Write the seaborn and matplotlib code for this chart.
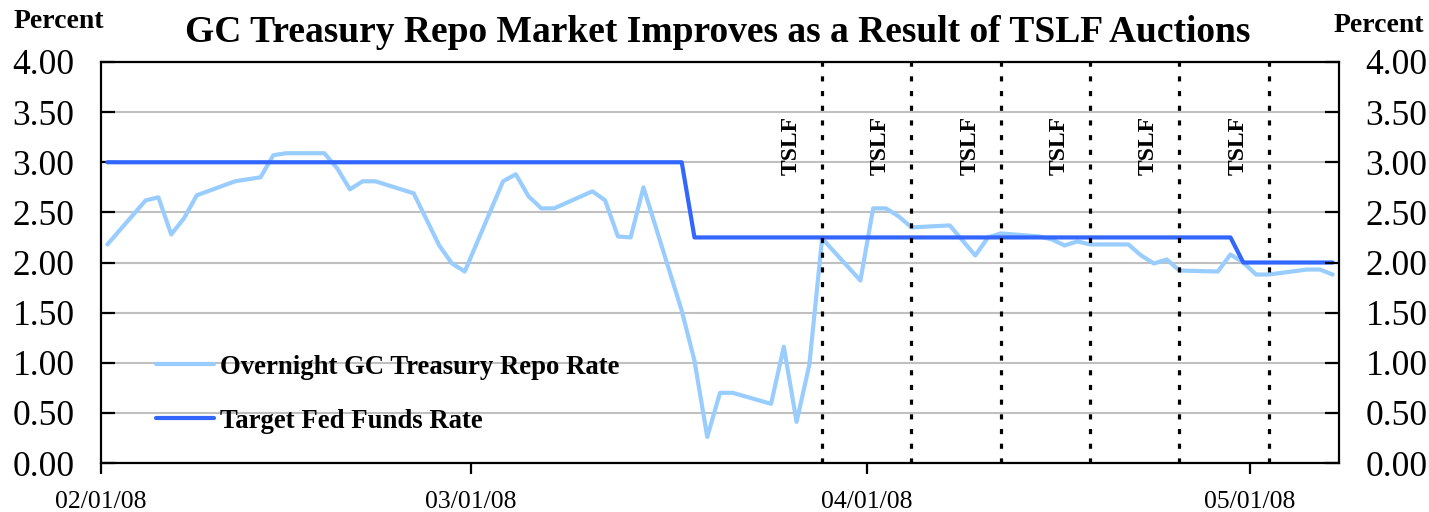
import matplotlib
matplotlib.use("Agg")
import matplotlib.pyplot as plt
import matplotlib.transforms as mtransforms
import seaborn as sns
import pandas as pd

# ---------------- data ----------------
feb_days = ["2008-02-01", "2008-02-04", "2008-02-05", "2008-02-06", "2008-02-07", "2008-02-08",
            "2008-02-11", "2008-02-12", "2008-02-13", "2008-02-14", "2008-02-15",
            "2008-02-18", "2008-02-19", "2008-02-20", "2008-02-21", "2008-02-22",
            "2008-02-25", "2008-02-26", "2008-02-27", "2008-02-28", "2008-02-29"]
mar_days = ["2008-03-03", "2008-03-04", "2008-03-05", "2008-03-06", "2008-03-07",
            "2008-03-10", "2008-03-11", "2008-03-12", "2008-03-13", "2008-03-14",
            "2008-03-17", "2008-03-18", "2008-03-19", "2008-03-20", "2008-03-21",
            "2008-03-24", "2008-03-25", "2008-03-26", "2008-03-27", "2008-03-28",
            "2008-03-31"]
apr_days = ["2008-04-01", "2008-04-02", "2008-04-03", "2008-04-04",
            "2008-04-07", "2008-04-08", "2008-04-09", "2008-04-10", "2008-04-11",
            "2008-04-14", "2008-04-15", "2008-04-16", "2008-04-17", "2008-04-18",
            "2008-04-21", "2008-04-22", "2008-04-23", "2008-04-24", "2008-04-25",
            "2008-04-28", "2008-04-29", "2008-04-30"]
may_days = ["2008-05-01", "2008-05-02", "2008-05-05", "2008-05-06", "2008-05-07"]

repo_feb = [2.18, 2.62, 2.65, 2.28, 2.44, 2.67, 2.81, 2.83, 2.85, 3.07, 3.09,
            3.09, 2.94, 2.73, 2.81, 2.81, 2.69, 2.43, 2.17, 1.99, 1.91]
repo_mar = [2.81, 2.88, 2.66, 2.54, 2.54, 2.71, 2.62, 2.26, 2.25, 2.75,
            1.52, 1.02, 0.26, 0.70, 0.70, 0.59, 1.16, 0.41, 0.98, 2.24, 1.82]
repo_apr = [2.54, 2.54, 2.46, 2.35, 2.37, 2.22, 2.07, 2.25, 2.29,
            2.26, 2.23, 2.17, 2.21, 2.18, 2.18, 2.07, 1.99, 2.03, 1.92,
            1.91, 2.08, 2.00]
repo_may = [1.88, 1.88, 1.93, 1.93, 1.88]

fed_feb = [3.00, 3.00, 3.00, 3.00, 3.00, 3.00, 3.00, 3.00, 3.00, 3.00, 3.00,
           3.00, 3.00, 3.00, 3.00, 3.00, 3.00, 3.00, 3.00, 3.00, 3.00]
fed_mar = [3.00, 3.00, 3.00, 3.00, 3.00, 3.00, 3.00, 3.00, 3.00, 3.00,
           3.00, 2.25, 2.25, 2.25, 2.25, 2.25, 2.25, 2.25, 2.25, 2.25, 2.25]
fed_apr = [2.25, 2.25, 2.25, 2.25, 2.25, 2.25, 2.25, 2.25, 2.25,
           2.25, 2.25, 2.25, 2.25, 2.25, 2.25, 2.25, 2.25, 2.25, 2.25,
           2.25, 2.25, 2.00]
fed_may = [2.00, 2.00, 2.00, 2.00, 2.00]

tslf_dates = ["2008-03-28", "2008-04-04", "2008-04-11", "2008-04-18", "2008-04-25", "2008-05-02"]
tick_dates = ["2008-02-01", "2008-03-01", "2008-04-01", "2008-05-01"]
tick_labels = ["02/01/08", "03/01/08", "04/01/08", "05/01/08"]
y_ticks = [0.0, 0.5, 1.0, 1.5, 2.0, 2.5, 3.0, 3.5, 4.0]

series_repo = "Overnight GC Treasury Repo Rate"
series_fed = "Target Fed Funds Rate"
title = "GC Treasury Repo Market Improves as a Result of TSLF Auctions"

# ---------------- frame ----------------
days = pd.to_datetime(feb_days + mar_days + apr_days + may_days) + pd.Timedelta(hours=12)
df = pd.DataFrame({
    "date": list(days) * 2,
    "rate": repo_feb + repo_mar + repo_apr + repo_may + fed_feb + fed_mar + fed_apr + fed_may,
    "series": [series_repo] * len(days) + [series_fed] * len(days),
})

sns.set_style("white")
plt.rcParams["font.family"] = ["Liberation Serif", "DejaVu Serif"]
plt.rcParams["text.color"] = "black"
plt.rcParams["xtick.color"] = "black"
plt.rcParams["ytick.color"] = "black"
plt.rcParams["xtick.labelcolor"] = "black"
plt.rcParams["ytick.labelcolor"] = "black"

fig = plt.figure(figsize=(14.29, 5.12), dpi=100)
ax = fig.add_axes([101 / 1429, 1 - 463 / 512, (1339 - 101) / 1429, (463 - 62) / 512])

sns.lineplot(data=df, x="date", y="rate", hue="series",
             palette={series_repo: "#99CCFF", series_fed: "#3366FF"},
             linewidth=3.0, ax=ax, zorder=3)

for d in tslf_dates:
    xd = pd.Timestamp(d) + pd.Timedelta(hours=12)
    ax.axvline(xd, color="black", linewidth=2.3, linestyle=(0, (1.6, 3.0)), zorder=4)
    ax.annotate("TSLF", xy=(xd, 3.46), xytext=(-31, 0), textcoords="offset pixels",
                rotation=90, ha="center", va="top", fontsize=17, fontweight="bold",
                color="black")

ax.set_xlim(pd.Timestamp("2008-02-01"), pd.Timestamp("2008-05-08"))
ax.set_ylim(0, 4)
ax.set_yticks(y_ticks)
ax.set_yticklabels([f"{v:.2f}" for v in y_ticks], fontsize=25.5)
ax.set_xticks(pd.to_datetime(tick_dates))
ax.set_xticklabels(tick_labels, fontsize=18.5)
shift = mtransforms.ScaledTranslation(4 / 100, 0, fig.dpi_scale_trans)
for lab in ax.get_xticklabels():
    lab.set_transform(lab.get_transform() + shift)
ax.grid(axis="y", color="#c0c0c0", linewidth=1.5, zorder=0)
ax.grid(axis="x", visible=False)
ax.set_xlabel("")
ax.set_ylabel("")
for s in ax.spines.values():
    s.set_color("black")
    s.set_linewidth(1.6)
ax.tick_params(axis="y", direction="in", length=10, width=1.6, pad=19, left=True)
ax.tick_params(axis="x", direction="out", length=8, width=1.6, pad=12, bottom=True)

ax2 = ax.twinx()
ax2.set_ylim(0, 4)
ax2.set_yticks(y_ticks)
ax2.set_yticklabels([f"{v:.2f}" for v in y_ticks], fontsize=25.5)
ax2.tick_params(axis="y", direction="in", length=10, width=1.6, pad=19, right=True)
for s in ax2.spines.values():
    s.set_visible(False)

leg = ax.legend(loc="lower left", bbox_to_anchor=(0.025, 0.013), frameon=False,
                prop={"size": 19.3, "weight": "bold"}, handlelength=2.15,
                handletextpad=0.22, labelspacing=1.08)
for line in leg.get_lines():
    line.set_linewidth(3.0)
for t in leg.get_texts():
    t.set_color("black")

fig.text(0.5025, 1 - 32 / 512, title, ha="center", va="center", fontsize=27,
         fontweight="bold", color="black")
fig.text(59 / 1429, 1 - 22 / 512, "Percent", ha="center", va="center", fontsize=20,
         fontweight="bold", color="black")
fig.text(1379 / 1429, 1 - 25 / 512, "Percent", ha="center", va="center", fontsize=20,
         fontweight="bold", color="black")

fig.savefig("out.png", dpi=100)
